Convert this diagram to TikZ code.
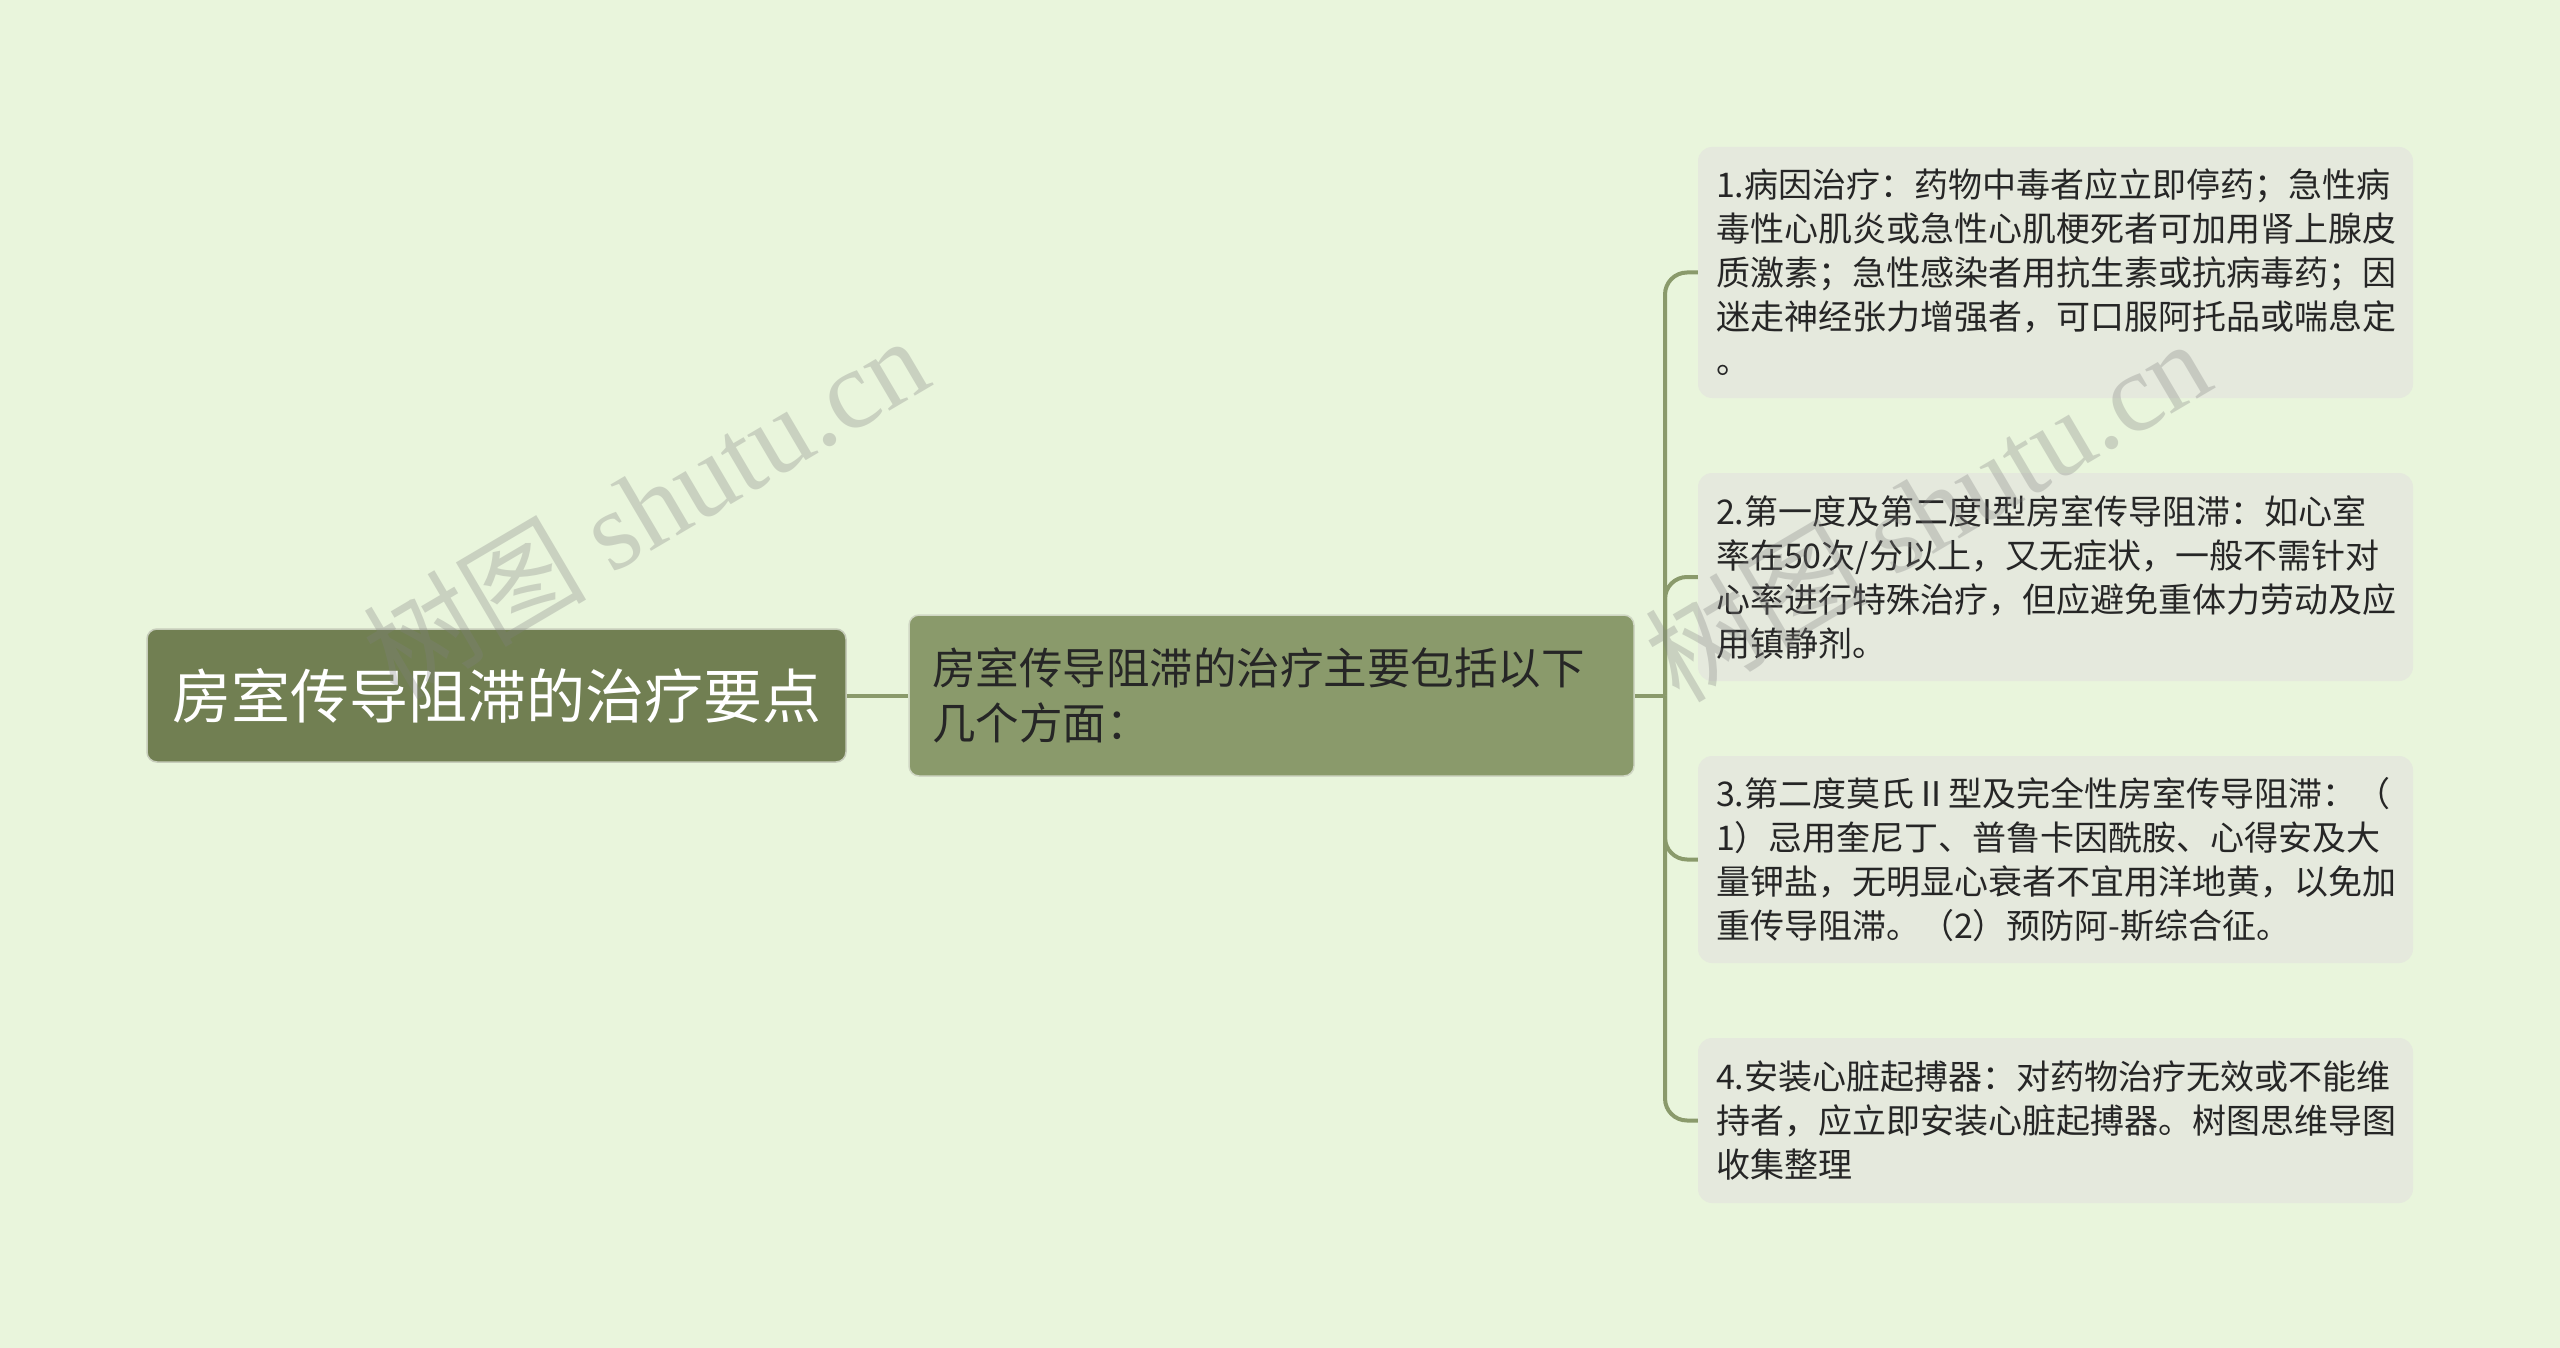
\documentclass[tikz,border=0pt]{standalone}
\usepackage{fontspec}
\setmainfont{Noto Sans CJK SC}
\newfontfamily\wmlatin{Liberation Serif}
\newfontfamily\wmcjk{Noto Sans CJK SC}
\definecolor{bgc}{HTML}{E9F5DC}
\definecolor{rootc}{HTML}{717F52}
\definecolor{subc}{HTML}{8A9A6B}
\definecolor{leafc}{HTML}{E5E9DD}
\definecolor{txtc}{HTML}{262626}
\tikzset{
  rootbox/.style={draw=white!60!rootc, line width=1.5pt, fill=rootc, rounded corners=10pt, text=white, inner sep=0pt,
    font=\fontsize{59pt}{70pt}\selectfont, align=center},
  subbox/.style={draw=white!60!subc, line width=1.5pt, fill=subc, rounded corners=10pt, text=txtc, inner sep=0pt,
    font=\fontsize{43.5pt}{55pt}\selectfont, align=left},
  leafbox/.style={fill=leafc, rounded corners=14pt, text=txtc, inner sep=0pt, minimum width=715pt,
    text width=679pt, align=left, font=\fontsize{34pt}{44pt}\selectfont},
  conn/.style={draw=subc, line width=4pt},
  wm/.style={text=gray, opacity=0.3, rotate=30.5, font=\fontsize{112pt}{118pt}\selectfont}
}
\begin{document}
\begin{tikzpicture}[x=1pt,y=-1pt]
\fill[bgc] (0,0) rectangle (2560,1348);
\useasboundingbox (0,0) rectangle (2560,1348);

\node[rootbox, minimum width=699pt, minimum height=133pt] (root) at (496.5,695.5) {房室传导阻滞的治疗要点};
\node[subbox, minimum width=725pt, minimum height=161pt, text width=679pt] (sub) at (1271.5,695.5)
  {房室传导阻滞的治疗主要包括以下\\几个方面：};

\node[leafbox, minimum height=251pt] (l1) at (2055.5,272.5)
  {1.病因治疗：药物中毒者应立即停药；急性病\\毒性心肌炎或急性心肌梗死者可加用肾上腺皮\\质激素；急性感染者用抗生素或抗病毒药；因\\迷走神经张力增强者，可口服阿托品或喘息定\\。};
\node[leafbox, minimum height=208pt] (l2) at (2055.5,577)
  {2.第一度及第二度I型房室传导阻滞：如心室\\率在50次/分以上，又无症状，一般不需针对\\心率进行特殊治疗，但应避免重体力劳动及应\\用镇静剂。};
\node[leafbox, minimum height=207pt] (l3) at (2055.5,859.5)
  {3.第二度莫氏Ⅱ型及完全性房室传导阻滞：（\\1）忌用奎尼丁、普鲁卡因酰胺、心得安及大\\量钾盐，无明显心衰者不宜用洋地黄，以免加\\重传导阻滞。（2）预防阿-斯综合征。};
\node[leafbox, minimum height=165pt] (l4) at (2055.5,1120.5)
  {4.安装心脏起搏器：对药物治疗无效或不能维\\持者，应立即安装心脏起搏器。树图思维导图\\收集整理};

\coordinate (trunk) at (1665,695.5);
\draw[conn] (root.east) -- (sub.west);
\draw[conn] (sub.east) -- (trunk);
\foreach \n in {l1,l2,l3,l4}{
  \draw[conn, rounded corners=22pt] (trunk) |- (\n.west);
}

\node[wm] (wm1) at (645,506) {\wmcjk 树图 \wmlatin shutu.cn};
\node[wm] (wm2) at (1927,509) {\wmcjk 树图 \wmlatin shutu.cn};
\end{tikzpicture}
\end{document}
